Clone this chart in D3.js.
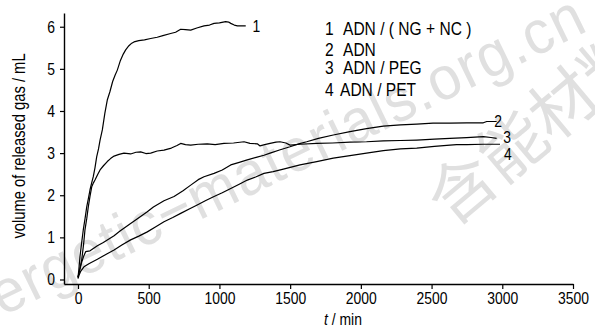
<!DOCTYPE html>
<html>
<head>
<meta charset="utf-8">
<script src="https://cdn.jsdelivr.net/npm/d3@7"></script>
<style>
  body { margin: 0; background: #fff; }
  text { font-family: "Liberation Sans", Arial, sans-serif; fill: #000; }
</style>
</head>
<body>
<svg id="chart" width="595" height="329"></svg>
<script>
/* globals d3 */

// 1 ADN/(NG+NC)
var t1 = [0, 5, 14, 25, 37, 50, 62, 75, 85, 97, 108, 120, 132, 145, 156, 172, 190, 207, 225, 245, 262, 278, 300, 320, 337, 360, 380, 396, 430, 470, 514, 560, 600, 655, 690, 726, 760, 797, 840, 891, 930, 962, 1000, 1044, 1065, 1080, 1105, 1127, 1160, 1186];
var v1 = [0.05, 0.2, 0.54, 0.85, 1.17, 1.45, 1.73, 1.95, 2.13, 2.3, 2.44, 2.65, 2.91, 3.1, 3.31, 3.55, 3.95, 4.26, 4.45, 4.7, 4.85, 4.97, 5.2, 5.35, 5.45, 5.55, 5.61, 5.64, 5.67, 5.69, 5.72, 5.75, 5.79, 5.84, 5.87, 5.94, 5.93, 5.92, 5.97, 6.02, 6.04, 6.08, 6.09, 6.12, 6.11, 6.08, 6.04, 6.02, 6.02, 6.02];

// 2 ADN
var t2 = [0, 10, 25, 40, 54, 85, 137, 179, 255, 297, 372, 415, 490, 533, 608, 679, 740, 797, 850, 891, 962, 1020, 1080, 1140, 1197, 1260, 1315, 1358, 1430, 1499, 1560, 1617, 1700, 1805, 1923, 2040, 2159, 2280, 2395, 2510, 2630, 2750, 2866, 2890, 2960];
var v2 = [0.05, 0.2, 0.4, 0.55, 0.66, 0.68, 0.8, 0.88, 1.04, 1.15, 1.33, 1.43, 1.61, 1.72, 1.87, 1.97, 2.1, 2.24, 2.37, 2.44, 2.52, 2.6, 2.72, 2.78, 2.84, 2.9, 2.95, 3.0, 3.08, 3.15, 3.22, 3.27, 3.35, 3.43, 3.51, 3.58, 3.64, 3.67, 3.69, 3.71, 3.71, 3.72, 3.72, 3.75, 3.75];

// 3 ADN/PEG
var t3 = [0, 10, 26, 40, 49, 62, 73, 85, 97, 110, 120, 140, 156, 180, 207, 230, 255, 290, 325, 372, 410, 443, 480, 514, 560, 608, 660, 700, 726, 760, 797, 850, 914, 970, 1032, 1100, 1174, 1216, 1268, 1287, 1320, 1358, 1400, 1428, 1470, 1499, 1570, 1688, 1800, 1923, 2040, 2159, 2280, 2395, 2520, 2630, 2748, 2866, 2920, 2960];
var v3 = [0.05, 0.2, 0.46, 0.85, 1.17, 1.45, 1.73, 1.98, 2.2, 2.3, 2.36, 2.5, 2.6, 2.7, 2.8, 2.87, 2.93, 2.97, 3.0, 2.98, 3.02, 3.03, 2.99, 3.0, 3.05, 3.07, 3.12, 3.18, 3.23, 3.2, 3.19, 3.21, 3.22, 3.2, 3.23, 3.24, 3.27, 3.23, 3.22, 3.17, 3.2, 3.23, 3.26, 3.27, 3.24, 3.19, 3.21, 3.23, 3.24, 3.26, 3.27, 3.29, 3.3, 3.31, 3.33, 3.35, 3.37, 3.39, 3.37, 3.35];

// 4 ADN/PET
var t4 = [0, 7, 20, 42, 80, 137, 200, 255, 310, 372, 430, 490, 550, 608, 670, 726, 790, 843, 900, 962, 1020, 1080, 1140, 1197, 1260, 1315, 1380, 1452, 1570, 1688, 1805, 1923, 2040, 2159, 2280, 2395, 2520, 2630, 2677, 2750, 2866, 2984];
var v4 = [0.02, 0.1, 0.2, 0.3, 0.38, 0.48, 0.6, 0.7, 0.82, 0.94, 1.03, 1.13, 1.25, 1.37, 1.47, 1.57, 1.68, 1.77, 1.87, 1.97, 2.06, 2.16, 2.26, 2.36, 2.44, 2.52, 2.56, 2.62, 2.72, 2.8, 2.88, 2.94, 3.0, 3.06, 3.1, 3.12, 3.16, 3.19, 3.2, 3.2, 3.21, 3.21];

var xTicks = [0, 500, 1000, 1500, 2000, 2500, 3000, 3500];
var yTicks = [0, 1, 2, 3, 4, 5, 6];
var curveNames = ["1", "2", "3", "4"];
var legendNums = ["1", "2", "3", "4"];
var legendLabels = ["ADN / ( NG + NC )", "ADN", "ADN / PEG", "ADN / PET"];

var NARROW = 0.82; // squeeze Liberation Sans to look like Arial Narrow

// moves x/y into a transform so the glyphs can be squeezed horizontally
function narrow(sel, rot){
  sel.each(function(){
    var t = d3.select(this);
    var tx = +t.attr("x") || 0, ty = +t.attr("y") || 0;
    t.attr("x", 0).attr("y", 0)
      .attr("transform", "translate(" + tx + "," + ty + ")" + (rot ? " rotate(" + rot + ")" : "") + " scale(" + NARROW + ",1)");
  });
}

var svg = d3.select("#chart");

// faint watermark behind the chart
svg.append("text")
  .attr("transform", "translate(266,188) rotate(-26) scale(0.95,1)")
  .attr("text-anchor", "middle")
  .style("font-size", "61px")
  .style("letter-spacing", "1.5px")
  .style("fill", "#e0e0e0")
  .text("energetic\u2212materials.org.cn");
svg.append("text")
  .attr("transform", "translate(452,228) rotate(-40)")
  .style("font-family", "'Noto Sans CJK SC', sans-serif")
  .style("font-size", "66px")
  .style("fill", "#e0e0e0")
  .text("含能材料");

var x = d3.scaleLinear().domain([-99, 3500]).range([64, 573]);
var y = d3.scaleLinear().domain([-0.107, 6.326]).range([284, 13]);

var xAxis = svg.append("g")
  .attr("transform", "translate(0,284)")
  .call(d3.axisBottom(x).tickValues(xTicks).tickFormat(d3.format("d"))
    .tickSize(5).tickSizeOuter(0).tickPadding(3));
var yAxis = svg.append("g")
  .attr("transform", "translate(64,0)")
  .call(d3.axisLeft(y).tickValues(yTicks).tickFormat(d3.format("d"))
    .tickSize(4).tickSizeOuter(0).tickPadding(5));

[xAxis, yAxis].forEach(function(g){
  g.select(".domain").attr("stroke", "#000").attr("stroke-width", 1.4);
  g.selectAll(".tick line").attr("stroke", "#000").attr("stroke-width", 1.2);
  g.selectAll(".tick text")
    .style("font-size", "17px")
    .style("font-family", "'Liberation Sans', Arial, sans-serif")
    .attr("fill", "#000")
    .call(narrow);
});

svg.append("text")
  .attr("x", 25)
  .attr("y", 146)
  .attr("text-anchor", "middle")
  .style("font-size", "18px")
  .text("volume of released gas / mL")
  .call(narrow, -90);

var xTitle = svg.append("text")
  .attr("x", 343)
  .attr("y", 325)
  .attr("text-anchor", "middle")
  .style("font-size", "17px");
xTitle.append("tspan").style("font-style", "italic").text("t");
xTitle.append("tspan").text(" / min");
xTitle.call(narrow);

var series = [
  {t: t1, v: v1},
  {t: t2, v: v2},
  {t: t3, v: v3},
  {t: t4, v: v4}
];

var line = d3.line()
  .x(function(d){ return x(d[0]); })
  .y(function(d){ return y(d[1]); });

series.forEach(function(s){
  var pts = s.t.map(function(tt, i){ return [tt, s.v[i]]; });
  svg.append("path")
    .datum(pts)
    .attr("d", line)
    .attr("fill", "none")
    .attr("stroke", "#000")
    .attr("stroke-width", 1.2)
    .attr("stroke-linejoin", "round");
});

// labels at the ends of the curves
var endPos = [[1262, 6.02], [2970, 3.76], [3035, 3.38], [3040, 2.98]];
curveNames.forEach(function(n, i){
  svg.append("text")
    .attr("x", x(endPos[i][0]))
    .attr("y", y(endPos[i][1]))
    .attr("dy", "0.36em")
    .attr("text-anchor", "middle")
    .style("font-size", "17px")
    .text(n)
    .call(narrow);
});

// legend
var legend = svg.append("g");
legendNums.forEach(function(n, i){
  var by = [35, 55.5, 74, 95.5][i];
  legend.append("text")
    .attr("x", 325)
    .attr("y", by)
    .style("font-size", "19px")
    .text(n)
    .call(narrow);
  legend.append("text")
    .attr("x", i === 3 ? 340 : 343)
    .attr("y", by)
    .style("font-size", "19px")
    .text(legendLabels[i])
    .call(narrow);
});
</script>
</body>
</html>
